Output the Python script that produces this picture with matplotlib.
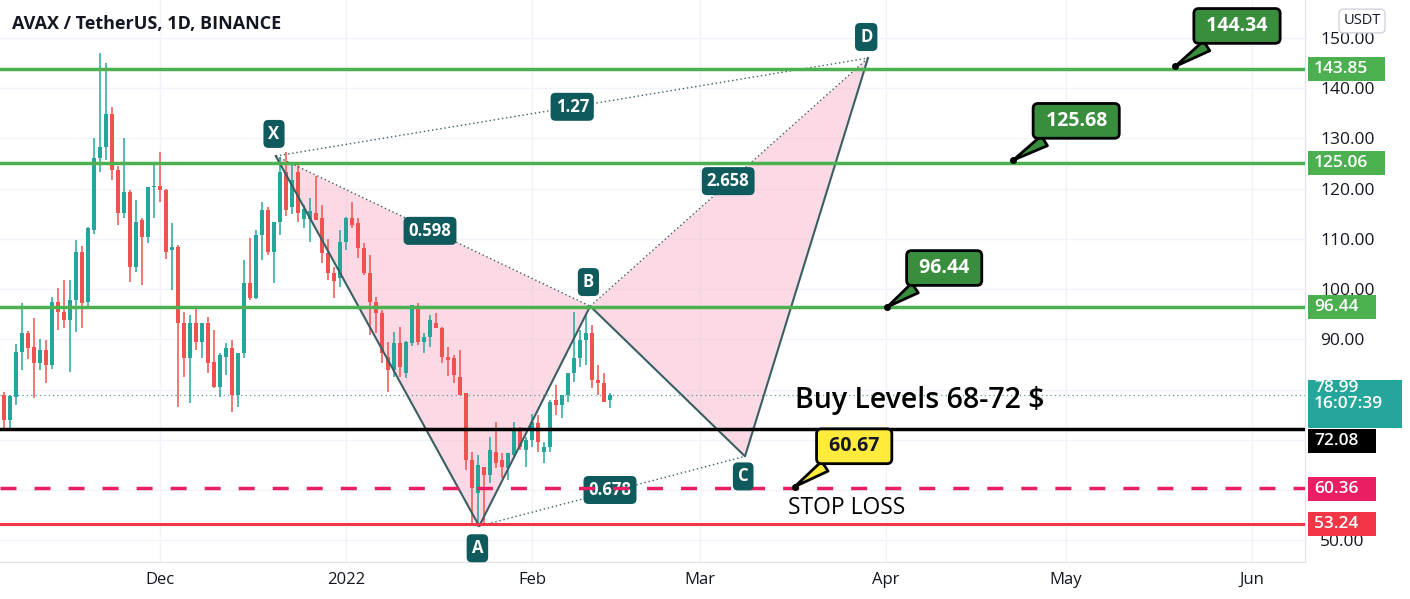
import numpy as np
import matplotlib
matplotlib.use("Agg")
import matplotlib.pyplot as plt
from matplotlib.patches import Rectangle, Polygon

plt.rcParams['font.family'] = ['Open Sans', 'DejaVu Sans']

# daily candles, day 0 = 1 Dec 2021
days = list(range(-26, 76))
opens = [78.9, 74.0, 78.5, 87.5, 91.2, 88.4, 85.3, 87.8, 84.9, 97.4,
         95.4, 93.8, 97.8, 107.4, 97.5, 111.8, 126.1, 128.3, 134.9, 123.7,
         115.1, 119.3, 104.4, 113.7, 110.4, 120.3, 120.5, 119.7, 107.8, 108.4,
         93.2, 86.3, 93.2, 89.4, 93.2, 85.5, 80.5, 86.5, 88.2, 78.9,
         87.3, 101.2, 98.2, 110.8, 115.7, 107.4, 113.3, 123.3, 116.3, 123.3,
         114.0, 114.0, 115.1, 114.1, 107.2, 103.2, 102.2, 109.4, 114.1, 113.1,
         108.2, 103.2, 97.4, 95.2, 86.5, 83.9, 89.2, 83.3, 89.2, 96.4,
         89.4, 90.4, 93.2, 92.2, 86.5, 86.3, 82.5, 79.3, 65.9, 59.4,
         64.5, 63.0, 67.5, 65.9, 64.3, 66.9, 71.9, 67.9, 69.9, 73.3,
         67.5, 68.5, 77.9, 76.9, 78.9, 83.3, 86.3, 89.8, 91.2, 81.9,
         81.3, 77.9]
highs = [79.5, 79.0, 89.0, 97.2, 91.6, 94.2, 90.0, 89.8, 98.4, 100.2,
         101.8, 101.8, 109.8, 108.6, 112.4, 130.1, 147.0, 145.0, 136.3, 124.5,
         130.1, 119.7, 117.7, 114.1, 120.3, 125.1, 127.3, 120.0, 113.1, 108.8,
         95.4, 94.8, 96.4, 93.2, 94.4, 91.8, 87.3, 89.2, 89.8, 87.3,
         105.8, 110.2, 111.8, 117.3, 116.3, 113.3, 126.3, 127.3, 125.1, 125.1,
         116.7, 118.1, 122.5, 116.7, 110.0, 104.4, 111.8, 114.3, 117.3, 114.1,
         109.2, 106.8, 98.4, 95.8, 89.4, 91.4, 92.4, 89.6, 96.8, 97.2,
         91.2, 94.8, 95.2, 92.4, 88.4, 86.9, 87.8, 79.3, 67.5, 66.9,
         64.5, 70.5, 73.5, 67.3, 67.3, 73.5, 72.5, 70.5, 75.1, 74.9,
         69.5, 77.9, 80.9, 78.9, 83.3, 95.4, 91.8, 94.8, 92.8, 84.9,
         83.3, 79.3]
lows = [72.3, 72.3, 77.0, 83.9, 86.0, 78.3, 83.9, 81.3, 84.0, 91.8,
        92.2, 83.5, 91.4, 92.2, 96.2, 111.0, 123.3, 125.7, 121.7, 112.8,
        114.1, 101.4, 103.4, 100.8, 109.2, 114.1, 117.3, 106.0, 99.8, 76.5,
        82.5, 77.3, 87.8, 86.3, 83.3, 80.3, 78.5, 82.9, 75.5, 76.5,
        86.3, 97.8, 98.0, 105.8, 106.8, 101.2, 110.8, 114.5, 115.0, 113.3,
        112.2, 109.4, 113.7, 105.2, 101.8, 98.2, 100.4, 107.8, 112.2, 106.2,
        102.8, 90.8, 91.2, 85.3, 79.5, 82.5, 82.5, 82.3, 88.6, 88.8,
        87.3, 88.4, 92.2, 85.3, 82.7, 81.3, 78.9, 63.9, 53.4, 52.6,
        53.0, 61.4, 64.3, 62.4, 62.0, 66.7, 67.9, 64.5, 68.5, 67.5,
        65.3, 67.5, 74.9, 74.3, 77.5, 81.5, 84.5, 84.9, 80.3, 78.9,
        77.5, 76.3]
closes = [74.0, 78.7, 87.5, 91.2, 88.2, 85.3, 87.8, 84.9, 97.4, 95.4,
          93.8, 97.8, 107.4, 97.2, 112.2, 126.1, 128.3, 134.9, 123.7, 115.1,
          119.3, 104.4, 113.3, 110.4, 120.3, 120.6, 119.7, 107.4, 108.4, 93.2,
          86.3, 93.2, 89.4, 93.2, 85.3, 80.5, 86.9, 88.2, 78.9, 87.3,
          101.2, 98.2, 110.8, 115.7, 107.4, 113.3, 123.3, 115.7, 121.7, 115.1,
          116.0, 115.5, 113.7, 107.2, 103.2, 101.6, 109.4, 114.1, 112.8, 108.2,
          103.2, 97.4, 95.2, 87.3, 83.9, 89.2, 84.5, 89.4, 96.8, 89.4,
          90.4, 93.8, 92.2, 86.5, 85.9, 82.9, 78.9, 65.9, 60.4, 65.0,
          63.0, 67.9, 65.3, 64.5, 67.3, 71.9, 68.5, 69.9, 73.5, 69.5,
          68.5, 77.5, 76.9, 78.9, 83.3, 86.3, 89.8, 91.2, 81.9, 81.3,
          77.5, 78.99]

# harmonic pattern points (day, price)
pattern_names = ['X', 'A', 'B', 'C', 'D']
pattern_days = [19.3, 53.2, 71.7, 97.5, 118.0]
pattern_prices = [126.5, 52.8, 96.6, 66.7, 146.0]
ratio_texts = ['1.27', '0.598', '2.658', '0.678']
ratio_days = [68.7, 45.0, 94.7, 75.0]
ratio_prices = [136.3, 111.6, 121.5, 60.0]

# horizontal levels
green_levels = [143.85, 125.06, 96.44]
entry_level = 72.08
stop_level = 60.36
low_level = 53.24
last_price = 78.99

# callouts: text, point (day, price), box (day, price)
callout_texts = ['144.34', '125.68', '96.44', '60.67']
callout_pt_days = [169.2, 142.2, 121.2, 105.8]
callout_pt_prices = [144.34, 125.68, 96.44, 60.67]
callout_box_days = [179.5, 152.7, 130.7, 115.7]
callout_box_prices = [152.4, 133.5, 104.2, 68.7]

month_days = [0, 31, 62, 90, 121, 151, 182]
month_labels = ['Dec', '2022', 'Feb', 'Mar', 'Apr', 'May', 'Jun']
price_ticks = [50, 90, 100, 110, 120, 130, 140, 150]

UP = '#26a69a'
DOWN = '#ef5350'
GREEN = '#4caf50'
TEAL_LBL = '#0f5a5c'
PAT = '#3a5f62'
TXT = '#131722'

W, H = 1410, 599
AXW, AXH = 1305, 562
fig = plt.figure(figsize=(W / 100, H / 100), dpi=100)
ax = fig.add_axes([0, (H - AXH) / H, AXW / W, AXH / H])
ppu = 5.022  # pixels per price unit
ax.set_ylim(150 - 524 / ppu, 150 + 38 / ppu)
ax.set_xlim(-160 / 6.0, (AXW - 160) / 6.0)

# grid
for d in month_days:
    ax.axvline(d, color='#f0f3fa', lw=1, zorder=0)
for p in range(50, 160, 10):
    ax.axhline(p, color='#f0f3fa', lw=1, zorder=0)

# pattern fill
xab = list(zip(pattern_days[:3], pattern_prices[:3]))
bcd = list(zip(pattern_days[2:], pattern_prices[2:]))
for pts in (xab, bcd):
    ax.add_patch(Polygon(pts, closed=True, fc='#f8bbd0', alpha=0.55, ec='none', zorder=1))

# candles
d = np.array(days)
o = np.array(opens); h = np.array(highs); l = np.array(lows); c = np.array(closes)
cols = np.where(c >= o, UP, DOWN)
ax.vlines(d, l, h, colors=cols, lw=1.1, zorder=2)
body = np.maximum(np.abs(c - o), 0.25)
ax.bar(d, body, bottom=np.minimum(o, c), width=0.68, color=cols, zorder=2)

# pattern lines
ax.plot(pattern_days, pattern_prices, color=PAT, lw=1.5, zorder=3)
for i, j in [(0, 2), (1, 3), (2, 4), (0, 4)]:
    ax.plot([pattern_days[i], pattern_days[j]], [pattern_prices[i], pattern_prices[j]],
            color=PAT, lw=1, ls=(0, (1, 2)), zorder=3)

for t, x, y in zip(ratio_texts, ratio_days, ratio_prices):
    ax.text(x, y, t, ha='center', va='center', color='white', fontsize=12, fontweight='bold',
            zorder=3.5, bbox=dict(boxstyle='round,pad=0.3,rounding_size=0.3', fc=TEAL_LBL, ec='none'))

letter_offsets = [4.4, -4.4, 4.8, -4.0, 4.2]
for t, x, y, off in zip(pattern_names, pattern_days, pattern_prices, letter_offsets):
    ax.text(x - 0.3, y + off, t, ha='center', va='center', color='white', fontsize=12, fontweight='bold',
            zorder=6, bbox=dict(boxstyle='round,pad=0.3,rounding_size=0.3', fc=TEAL_LBL, ec='none'))

# levels
for lv in green_levels:
    ax.axhline(lv, color=GREEN, lw=2.5, zorder=4)
ax.axhline(entry_level, color='black', lw=2.5, zorder=4)
ax.axhline(stop_level, color='#e91e63', lw=2.5, dashes=(4.6, 5.2), zorder=4)
ax.axhline(low_level, color='#f23645', lw=2.2, zorder=4)
ax.axhline(last_price, color='#5b9a9a', lw=0.9, ls=(0, (1, 2.5)), zorder=1.5)

# callouts
for i, t in enumerate(callout_texts):
    fc = '#ffeb3b' if t == '60.67' else '#388e3c'
    tc = TXT if t == '60.67' else 'white'
    ax.annotate(' ' + t + ' ', xy=(callout_pt_days[i], callout_pt_prices[i]),
                xytext=(callout_box_days[i], callout_box_prices[i]),
                ha='center', va='center', color=tc, fontsize=14, fontweight='bold', zorder=7,
                bbox=dict(boxstyle='round,pad=0.38,rounding_size=0.25', fc=fc, ec='black', lw=2),
                arrowprops=dict(arrowstyle='wedge,tail_width=0.6,shrink_factor=0.5',
                                fc=fc, ec='black', lw=2, shrinkB=0))
    ax.plot(callout_pt_days[i], callout_pt_prices[i], 'o', color='black', ms=4, zorder=8)

ax.text(105.8, 77.9, 'Buy Levels 68-72 $', fontsize=20.5, fontweight='semibold', color='black',
        va='center', ha='left', zorder=7)
ax.text(104.7, 56.4, 'STOP LOSS', fontsize=16.5, color='black', va='center', ha='left', zorder=7)

# axes styling
for s in ['top', 'left']:
    ax.spines[s].set_visible(False)
ax.spines['right'].set_color('#e0e3eb')
ax.spines['bottom'].set_color('#e0e3eb')
ax.yaxis.tick_right()
ax.set_yticks(price_ticks)
ax.set_yticklabels(['%.2f' % v for v in price_ticks])
ax.tick_params(axis='y', length=0, pad=11, labelsize=12.5, labelcolor=TXT)
ax.set_xticks(month_days)
ax.set_xticklabels(month_labels)
ax.tick_params(axis='x', length=0, pad=7, labelsize=12, labelcolor=TXT)

# price tags on the scale
ytr = ax.get_yaxis_transform()
def tag(price, text, color, w=77, hpx=24, yoff=0.0, tc='white'):
    y = price + yoff
    ax.add_patch(Rectangle((1308 / AXW, y - hpx / 2 / ppu), w / AXW, hpx / ppu,
                           transform=ytr, fc=color, ec='none', clip_on=False, zorder=10))
    ax.text(1314 / AXW, y, text, transform=ytr, ha='left', va='center', color=tc,
            fontsize=12.5, fontweight='semibold', clip_on=False, zorder=11)

tag(143.85, '143.85', GREEN)
tag(125.06, '125.06', GREEN)
tag(96.44, '96.44', GREEN, w=68)
tag(entry_level, '72.08', 'black', w=68, yoff=-2.33)
tag(stop_level, '60.36', '#e91e63', w=68, yoff=-0.1)
tag(low_level, '53.24', '#f23645', w=68)
ax.add_patch(Rectangle((1308 / AXW, 150 - 428 / ppu + 38 / ppu), 94 / AXW, 48 / ppu,
                       transform=ytr, fc=UP, ec='none', clip_on=False, zorder=10))
ax.text(1314 / AXW, last_price - 0.3, '78.99\n16:07:39', transform=ytr, ha='left', va='center',
        color='white', fontsize=12.5, fontweight='semibold', linespacing=1.0, clip_on=False, zorder=11)

fig.text(1362 / W, 1 - 21 / H, 'USDT', ha='center', va='center', fontsize=10.5, color=TXT,
         bbox=dict(boxstyle='round,pad=0.3', fc='white', ec='#d1d4dc'), zorder=12)
fig.text(12 / W, 1 - 24 / H, 'AVAX / TetherUS, 1D, BINANCE', ha='left', va='center',
         fontsize=13, fontweight='bold', color=TXT)

fig.savefig('out.png', dpi=100, facecolor='white')
